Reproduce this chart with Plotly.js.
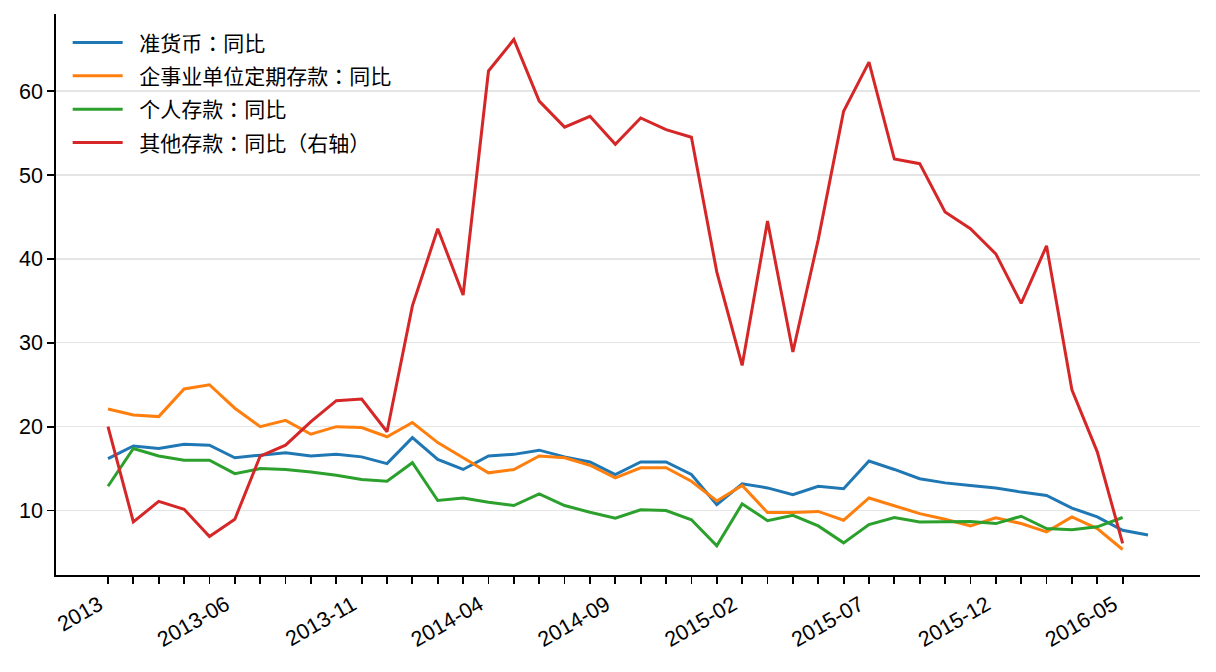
<!DOCTYPE html>
<html>
<head>
<meta charset="utf-8">
<script src="https://cdn.plot.ly/plotly-3.0.1.min.js"></script>
<style>html,body{margin:0;padding:0;background:#fff;}#chart{width:1216px;height:672px;}</style>
</head>
<body>
<div id="chart"></div>
<script>
const months = ["2013-01","2013-02","2013-03","2013-04","2013-05","2013-06","2013-07","2013-08","2013-09","2013-10","2013-11","2013-12",
"2014-01","2014-02","2014-03","2014-04","2014-05","2014-06","2014-07","2014-08","2014-09","2014-10","2014-11","2014-12",
"2015-01","2015-02","2015-03","2015-04","2015-05","2015-06","2015-07","2015-08","2015-09","2015-10","2015-11","2015-12",
"2016-01","2016-02","2016-03","2016-04","2016-05","2016-06"];

const seriesNames = ["准货币：同比","企事业单位定期存款：同比","个人存款：同比","其他存款：同比（右轴）"];

const quasiMoney = [16.2,17.7,17.4,17.9,17.8,16.3,16.6,16.9,16.5,16.7,16.4,15.6,
18.7,16.1,14.9,16.5,16.7,17.2,16.4,15.8,14.3,15.8,15.8,14.3,
10.7,13.2,12.7,11.9,12.9,12.6,15.9,14.9,13.8,13.3,13.0,12.7,
12.2,11.8,10.3,9.25,7.65,7.1];

const corpTime = [22.1,21.4,21.2,24.5,25.0,22.2,20.0,20.75,19.1,20.0,19.9,18.8,
20.5,18.1,16.3,14.5,14.9,16.5,16.3,15.4,13.9,15.1,15.1,13.5,
11.15,13.0,9.76,9.76,9.9,8.85,11.5,10.6,9.64,8.97,8.17,9.13,
8.45,7.46,9.25,7.86,5.36];

const personal = [12.9,17.4,16.5,16.0,16.0,14.4,15.0,14.9,14.6,14.2,13.7,13.5,
15.7,11.2,11.5,11.0,10.6,12.0,10.6,9.8,9.1,10.1,10.0,8.9,
5.8,10.8,8.8,9.44,8.17,6.15,8.33,9.17,8.65,8.65,8.7,8.45,
9.32,7.86,7.7,8.06,9.17];

const otherDep = [20.0,8.65,11.1,10.15,6.9,8.97,16.5,17.8,20.6,23.1,23.3,19.4,
34.4,43.6,35.7,62.4,66.15,58.8,55.7,57.0,53.65,56.8,55.4,54.5,
38.45,27.3,44.5,28.9,42.3,57.6,63.45,51.9,51.35,45.6,43.6,40.6,
34.7,41.55,24.4,17.0,6.1];

const colors = ["#1f77b4","#ff7f0e","#2ca02c","#d62728"];
const allSeries = [quasiMoney, corpTime, personal, otherDep];

const tickMonths = months.slice(0, 41);
const tickLabels = tickMonths.map((m, i) => i % 5 === 0 ? (i === 0 ? "2013" : m) : "");

const traces = allSeries.map((vals, k) => ({
  type: "scatter",
  mode: "lines",
  x: months.slice(0, vals.length),
  y: vals,
  name: "\u00a0\u00a0" + seriesNames[k],
  legendgroup: "g" + k,
  line: {color: colors[k], width: 3}
}));

const layout = {
  width: 1216, height: 672,
  margin: {l: 56, r: 16, t: 14, b: 97},
  paper_bgcolor: "#fff", plot_bgcolor: "#fff",
  font: {family: "Liberation Sans, Arial, 'Noto Sans CJK TC', sans-serif", size: 21.5, color: "#000"},
  showlegend: true,
  legend: {
    x: 0.0102, y: 0.985, xanchor: "left", yanchor: "top",
    bgcolor: "rgba(255,255,255,0)",
    font: {family: "Liberation Sans, 'Noto Sans CJK TC', sans-serif", size: 21, color: "#000"},
    traceorder: "grouped", tracegroupgap: 3, itemwidth: 50
  },
  xaxis: {
    type: "category",
    range: [-2.05, 43.05],
    tickmode: "array", tickvals: tickMonths, ticktext: tickLabels,
    tickangle: -30,
    ticklabelshift: -9, ticklabelstandoff: 0,
    ticks: "outside", ticklen: 7, tickwidth: 1.8, tickcolor: "#000",
    showline: true, linecolor: "#000", linewidth: 1.8,
    showgrid: false, zeroline: false,
    tickfont: {size: 21.5}
  },
  yaxis: {
    range: [2.32, 69.19],
    tickmode: "array", tickvals: [10,20,30,40,50,60],
    ticks: "outside", ticklen: 7, tickwidth: 1.8, tickcolor: "#000",
    showline: true, linecolor: "#000", linewidth: 1.8,
    showgrid: true, gridcolor: "#e5e5e5", gridwidth: 1.3,
    zeroline: false,
    tickfont: {size: 21.5}
  }
};

Plotly.newPlot("chart", traces, layout, {displayModeBar: false, staticPlot: true});
</script>
</body>
</html>
